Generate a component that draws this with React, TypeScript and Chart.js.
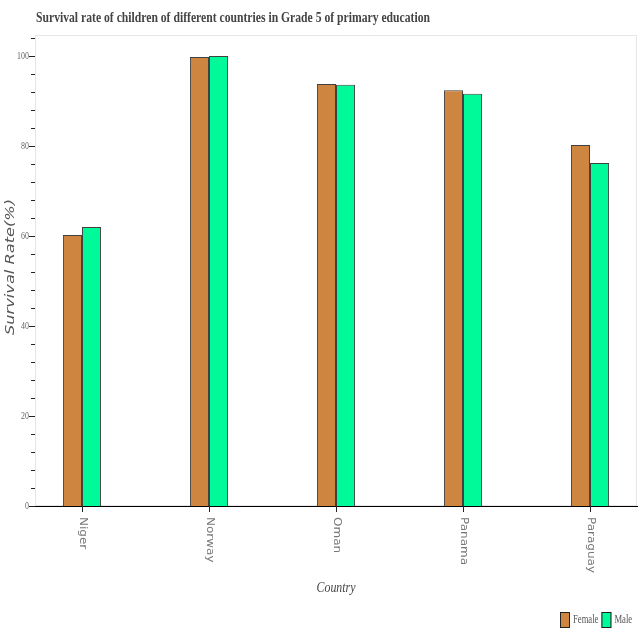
import React, { useEffect, useRef } from "react";
import { Chart, registerables } from "chart.js";

Chart.register(...registerables);

const categories = ["Niger", "Norway", "Oman", "Panama", "Paraguay"];
const femaleValues = [60.2, 99.8, 93.8, 92.4, 80.2];
const maleValues = [62.0, 100.0, 93.6, 91.6, 76.2];
const yTicks = [0, 20, 40, 60, 80, 100];
const seriesNames = ["Female", "Male"];
const seriesColors = ["#CD853F", "#00FA9A"];
const titleText = "Survival rate of children of different countries in Grade 5 of primary education";
const xTitle = "Country";
const yTitle = "Survival Rate(%)";

function drawNarrow(ctx: any, text: string, x: number, y: number, font: string, sx: number, align: string, color: string) {
  ctx.save();
  ctx.font = font;
  ctx.fillStyle = color;
  ctx.textBaseline = "middle";
  ctx.textAlign = "left";
  const w = ctx.measureText(text).width * sx;
  let x0 = x;
  if (align === "center") x0 = x - w / 2;
  else if (align === "right") x0 = x - w;
  ctx.translate(x0, y);
  ctx.scale(sx, 1);
  ctx.fillText(text, 0, 0);
  ctx.restore();
  return w;
}

const decorPlugin = {
  id: "decor",
  beforeDatasetsDraw(chart: any) {
    const { ctx, chartArea } = chart;
    ctx.save();
    ctx.strokeStyle = "#e6e6e6";
    ctx.lineWidth = 1;
    ctx.strokeRect(chartArea.left + 0.5, chartArea.top + 0.5, chartArea.right - chartArea.left - 1, chartArea.bottom - chartArea.top - 1);
    ctx.restore();
  },
  afterDraw(chart: any) {
    const { ctx, chartArea, scales } = chart;
    const xs = scales.x;
    const ys = scales.y;
    ctx.save();
    ctx.strokeStyle = "#222";
    ctx.lineWidth = 1;
    for (let v = 0; v <= 104; v += 4) {
      const py = Math.round(ys.getPixelForValue(v)) + 0.5;
      const major = v % 20 === 0;
      ctx.beginPath();
      ctx.moveTo(chartArea.left, py);
      ctx.lineTo(chartArea.left - (major ? 6 : 4), py);
      ctx.stroke();
    }
    yTicks.forEach((v) => {
      drawNarrow(ctx, String(v), chartArea.left - 6, ys.getPixelForValue(v), "11px 'Liberation Serif'", 0.72, "right", "#666");
    });
    categories.forEach((c, i) => {
      const px = Math.round(xs.getPixelForValue(i)) + 0.5;
      ctx.beginPath();
      ctx.moveTo(px, chartArea.bottom);
      ctx.lineTo(px, chartArea.bottom + 6);
      ctx.stroke();
      ctx.save();
      ctx.translate(px, chartArea.bottom + 11);
      ctx.rotate(Math.PI / 2);
      ctx.scale(1.2, 1);
      ctx.fillStyle = "#777";
      ctx.font = "10px 'DejaVu Sans'";
      ctx.textAlign = "left";
      ctx.textBaseline = "middle";
      ctx.fillText(c, 0, 0);
      ctx.restore();
    });
    // title
    ctx.font = "bold 14px 'Liberation Serif'";
    const tw = ctx.measureText(titleText).width;
    drawNarrow(ctx, titleText, 36, 18, "bold 14px 'Liberation Serif'", 394 / tw, "left", "#444");
    // x title
    ctx.font = "italic 15px 'Liberation Serif'";
    const xw = ctx.measureText(xTitle).width;
    drawNarrow(ctx, xTitle, (chartArea.left + chartArea.right) / 2, 588, "italic 15px 'Liberation Serif'", 39 / xw, "center", "#444");
    // y title
    ctx.save();
    ctx.translate(11, 267);
    ctx.rotate(-Math.PI / 2);
    ctx.font = "italic 12px 'DejaVu Sans'";
    const yw = ctx.measureText(yTitle).width;
    ctx.scale(136 / yw, 1);
    ctx.textAlign = "center";
    ctx.textBaseline = "middle";
    ctx.fillStyle = "#555";
    ctx.fillText(yTitle, 0, 0);
    ctx.restore();
    // legend
    let lx = 560;
    const ly = 612;
    seriesNames.forEach((n, i) => {
      ctx.fillStyle = seriesColors[i];
      ctx.fillRect(lx, ly, 10, 16);
      ctx.strokeStyle = "#222";
      ctx.strokeRect(lx + 0.5, ly + 0.5, 9, 15);
      const w = drawNarrow(ctx, n, lx + 13, ly + 8, "12px 'Liberation Serif'", 0.72, "left", "#555");
      lx += 13 + w + 3;
    });
    ctx.restore();
  },
};

export default function App() {
  const ref = useRef<HTMLCanvasElement>(null);
  useEffect(() => {
    document.body.style.margin = "0";
    const chart = new Chart(ref.current!, {
      type: "bar",
      data: {
        datasets: [
          {
            label: seriesNames[0],
            data: categories.map((_, i) => ({ x: i, y: femaleValues[i] })),
            backgroundColor: seriesColors[0],
            borderColor: "rgba(0,0,0,0.75)",
            borderWidth: 1,
          },
          {
            label: seriesNames[1],
            data: categories.map((_, i) => ({ x: i, y: maleValues[i] })),
            backgroundColor: seriesColors[1],
            borderColor: "rgba(0,0,0,0.75)",
            borderWidth: 1,
          },
        ] as any,
      },
      options: {
        animation: false,
        responsive: false,
        layout: { padding: { top: 35, right: 3, left: 0, bottom: 0 } },
        datasets: { bar: { categoryPercentage: 0.3, barPercentage: 1 } } as any,
        plugins: { legend: { display: false }, title: { display: false }, tooltip: { enabled: false } },
        scales: {
          x: {
            type: "linear",
            min: -0.37,
            max: 4.37,
            offset: false,
            grid: { display: false },
            border: { display: true, color: "#000", width: 1 },
            ticks: { display: false },
            afterBuildTicks: (s: any) => { s.ticks = categories.map((_, i) => ({ value: i })); },
            afterFit: (s: any) => { s.height = 134; },
          },
          y: {
            min: 0,
            max: 104.67,
            grid: { display: false },
            border: { display: true, color: "#000", width: 1 },
            ticks: { display: false },
            afterBuildTicks: (s: any) => { s.ticks = yTicks.map((v) => ({ value: v })); },
            afterFit: (s: any) => { s.width = 35; },
          },
        },
      } as any,
      plugins: [decorPlugin],
    });
    return () => chart.destroy();
  }, []);
  return <canvas ref={ref} width={640} height={640} style={{ display: "block" }} />;
}
